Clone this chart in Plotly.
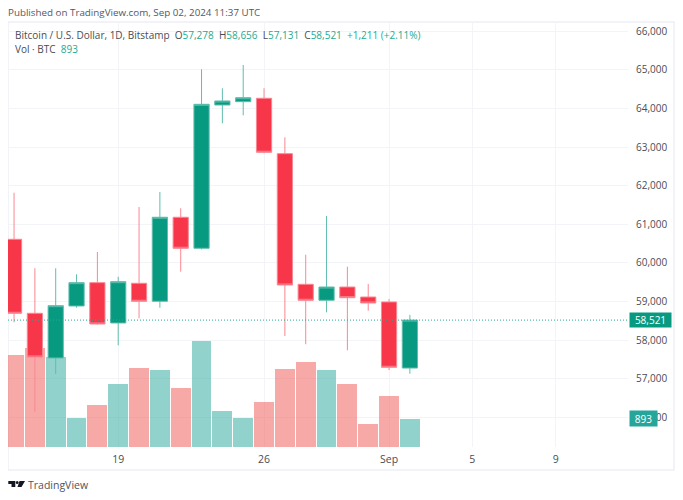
import plotly.graph_objects as go
from datetime import datetime as dt, timedelta as td

# bougies journalieres BTC/USD, du 14 aout au 2 septembre 2024
debut = dt(2024, 8, 14)
nb_jours = 20
ouvert = [60614, 58697, 57539, 58886, 59490, 58446, 59474, 59008, 61184, 60381,
          64093, 64179, 64267, 62832, 59448, 59034, 59378, 59119, 58990, 57278]
haut = [61821, 59863, 59863, 59707, 60285, 59645, 61451, 61839, 61417, 65018,
        64526, 65130, 64526, 63256, 60215, 61218, 59904, 59456, 59067, 58656]
bas = [58464, 56148, 57124, 58842, 58400, 57868, 58567, 58842, 59775, 60350,
       63619, 63826, 62840, 58109, 57894, 58723, 57738, 58764, 57228, 57131]
ferme = [58697, 57565, 58894, 59490, 58420, 59516, 59008, 61184, 60381, 64111,
         64197, 64282, 62868, 59430, 59034, 59378, 59101, 58964, 57298, 58521]
volume = [2929, 3142, 2844, 912, 1346, 1989, 2496, 2423, 1884, 3363,
          1156, 912, 1419, 2477, 2686, 2445, 1989, 735, 1609, 893]
vol_hausse = [0, 0, 1, 1, 0, 1, 0, 1, 0, 1, 1, 1, 0, 0, 0, 1, 0, 0, 0, 1]

ticks_prix = [56000, 57000, 58000, 59000, 60000, 61000, 62000, 63000, 64000, 65000, 66000]
ticks_dates = [dt(2024, 8, 19), dt(2024, 8, 26), dt(2024, 9, 1), dt(2024, 9, 5), dt(2024, 9, 9)]
ticks_textes = ["19", "26", "Sep", "5", "9"]

VERT = "#089981"
ROUGE = "#F7364A"
VERT_VOL = "rgba(38,166,154,0.5)"
ROUGE_VOL = "rgba(239,83,80,0.5)"
GRILLE = "#F3F4F7"
CADRE = "#EEF0F6"
TEXTE = "#4A4C55"
POLICE = "Open Sans"

jours = [debut + td(days=i) for i in range(nb_jours)]

# la page garde une marge de 8 px autour de la figure
MARGE = 8
# zone du graphique en pixels de la fenetre, pour placer les textes hors axes
G, D, H, B = 8, 628, 22, 447
def px(x):
  return (x - G) / (D - G)
def py(y):
  return (B - y) / (B - H)

fig = go.Figure()

# volume sur l'axe principal pour rester sous les bougies
fig.add_trace(go.Bar(
    x=jours, y=volume, yaxis="y", width=86400000 * 0.95,
    marker=dict(color=[VERT_VOL if v else ROUGE_VOL for v in vol_hausse], line_width=0),
    showlegend=False, hoverinfo="skip"))

fig.add_trace(go.Candlestick(
    x=jours, open=ouvert, high=haut, low=bas, close=ferme, yaxis="y2",
    whiskerwidth=0, showlegend=False,
    increasing=dict(fillcolor=VERT, line=dict(color="#5FBDAE", width=1)),
    decreasing=dict(fillcolor=ROUGE, line=dict(color="#FA8793", width=1))))

# ligne du dernier prix
fig.add_shape(type="line", xref="paper", x0=0, x1=1, yref="y2", y0=ferme[-1], y1=ferme[-1],
              line=dict(color="#22AB94", width=1, dash="1px,2px"))
# cadre autour du graphique et de l'echelle
fig.add_shape(type="rect", xref="paper", yref="paper", x0=px(8), x1=px(674), y0=py(470), y1=py(22),
              line=dict(color=CADRE, width=1.5), layer="below")

# logo TradingView
def chemin(points):
  return "M" + " L".join(f"{px(x)},{py(y)}" for x, y in points) + " Z"
for forme in ([(8.3, 481), (15.3, 481), (15.3, 487), (11.5, 487), (11.5, 484), (8.3, 484)],
              [(19.5, 481), (25, 481), (21.5, 487), (17.5, 487)]):
  fig.add_shape(type="path", xref="paper", yref="paper", path=chemin(forme),
                fillcolor="#131722", line_width=0)
fig.add_shape(type="circle", xref="paper", yref="paper", x0=px(15.8), x1=px(18.6), y0=py(484), y1=py(481),
              fillcolor="#131722", line_width=0)

# les annotations ont un retrait de 2 px, d'ou le x - 2
def texte(x, y, t, taille=10, couleur=TEXTE, **kw):
  fig.add_annotation(xref="paper", yref="paper", x=px(x - 2), y=py(y), text=t, showarrow=False,
                     xanchor="left", yanchor="middle",
                     font=dict(family=POLICE, size=taille, color=couleur), **kw)

def v(t):
  return f'<span style="color:#22AB94">{t}</span>'

texte(8, 12, "Published on TradingView.com, Sep 02, 2024 11:37 UTC", taille=9.8, couleur="#55575F")
texte(15, 35, "Bitcoin / U.S. Dollar, 1D, Bitstamp  O" + v("57,278") + "  H" + v("58,656")
      + "  L" + v("57,131") + "  C" + v("58,521") + "  " + v("+1,211 (+2.11%)"))
texte(15, 49, "Vol · BTC  " + v("893"))
texte(28, 485, "TradingView", taille=10.5, couleur="#50535E")

# etiquettes de prix et de volume sur l'echelle
texte(631, 320, "58,521", couleur="white", bgcolor=VERT, borderpad=0, width=41, height=14, align="center")
texte(631, 418.5, "893", couleur="white", bgcolor="#26A69A", borderpad=0, width=27, height=15, align="center")

fig.update_layout(
    width=683 - MARGE, height=500 - 2 * MARGE,
    margin=dict(l=G - MARGE, r=683 - D, t=H - MARGE, b=500 - MARGE - B),
    paper_bgcolor="white", plot_bgcolor="white", bargap=0, autosize=False,
    boxgap=0.27, boxgroupgap=0,
    xaxis=dict(type="date", range=[dt(2024, 8, 13, 17, 2), dt(2024, 9, 12, 11, 17)],
               tickvals=ticks_dates, ticktext=ticks_textes, ticks="outside", ticklen=2,
               tickcolor="rgba(0,0,0,0)", showline=False,
               rangeslider=dict(visible=False), showgrid=True, gridcolor=GRILLE, gridwidth=1,
               zeroline=False, tickfont=dict(family=POLICE, size=10.5, color=TEXTE)),
    yaxis=dict(range=[0, 13460], visible=False, showgrid=False, fixedrange=True),
    yaxis2=dict(range=[55233, 66243], overlaying="y", side="right", tickvals=ticks_prix,
                tickformat=",d", showgrid=True, gridcolor=GRILLE, gridwidth=1, zeroline=False,
                ticks="outside", ticklen=5, tickcolor="rgba(0,0,0,0)",
                tickfont=dict(family=POLICE, size=10, color=TEXTE)),
)

fig.write_html("out.html")
